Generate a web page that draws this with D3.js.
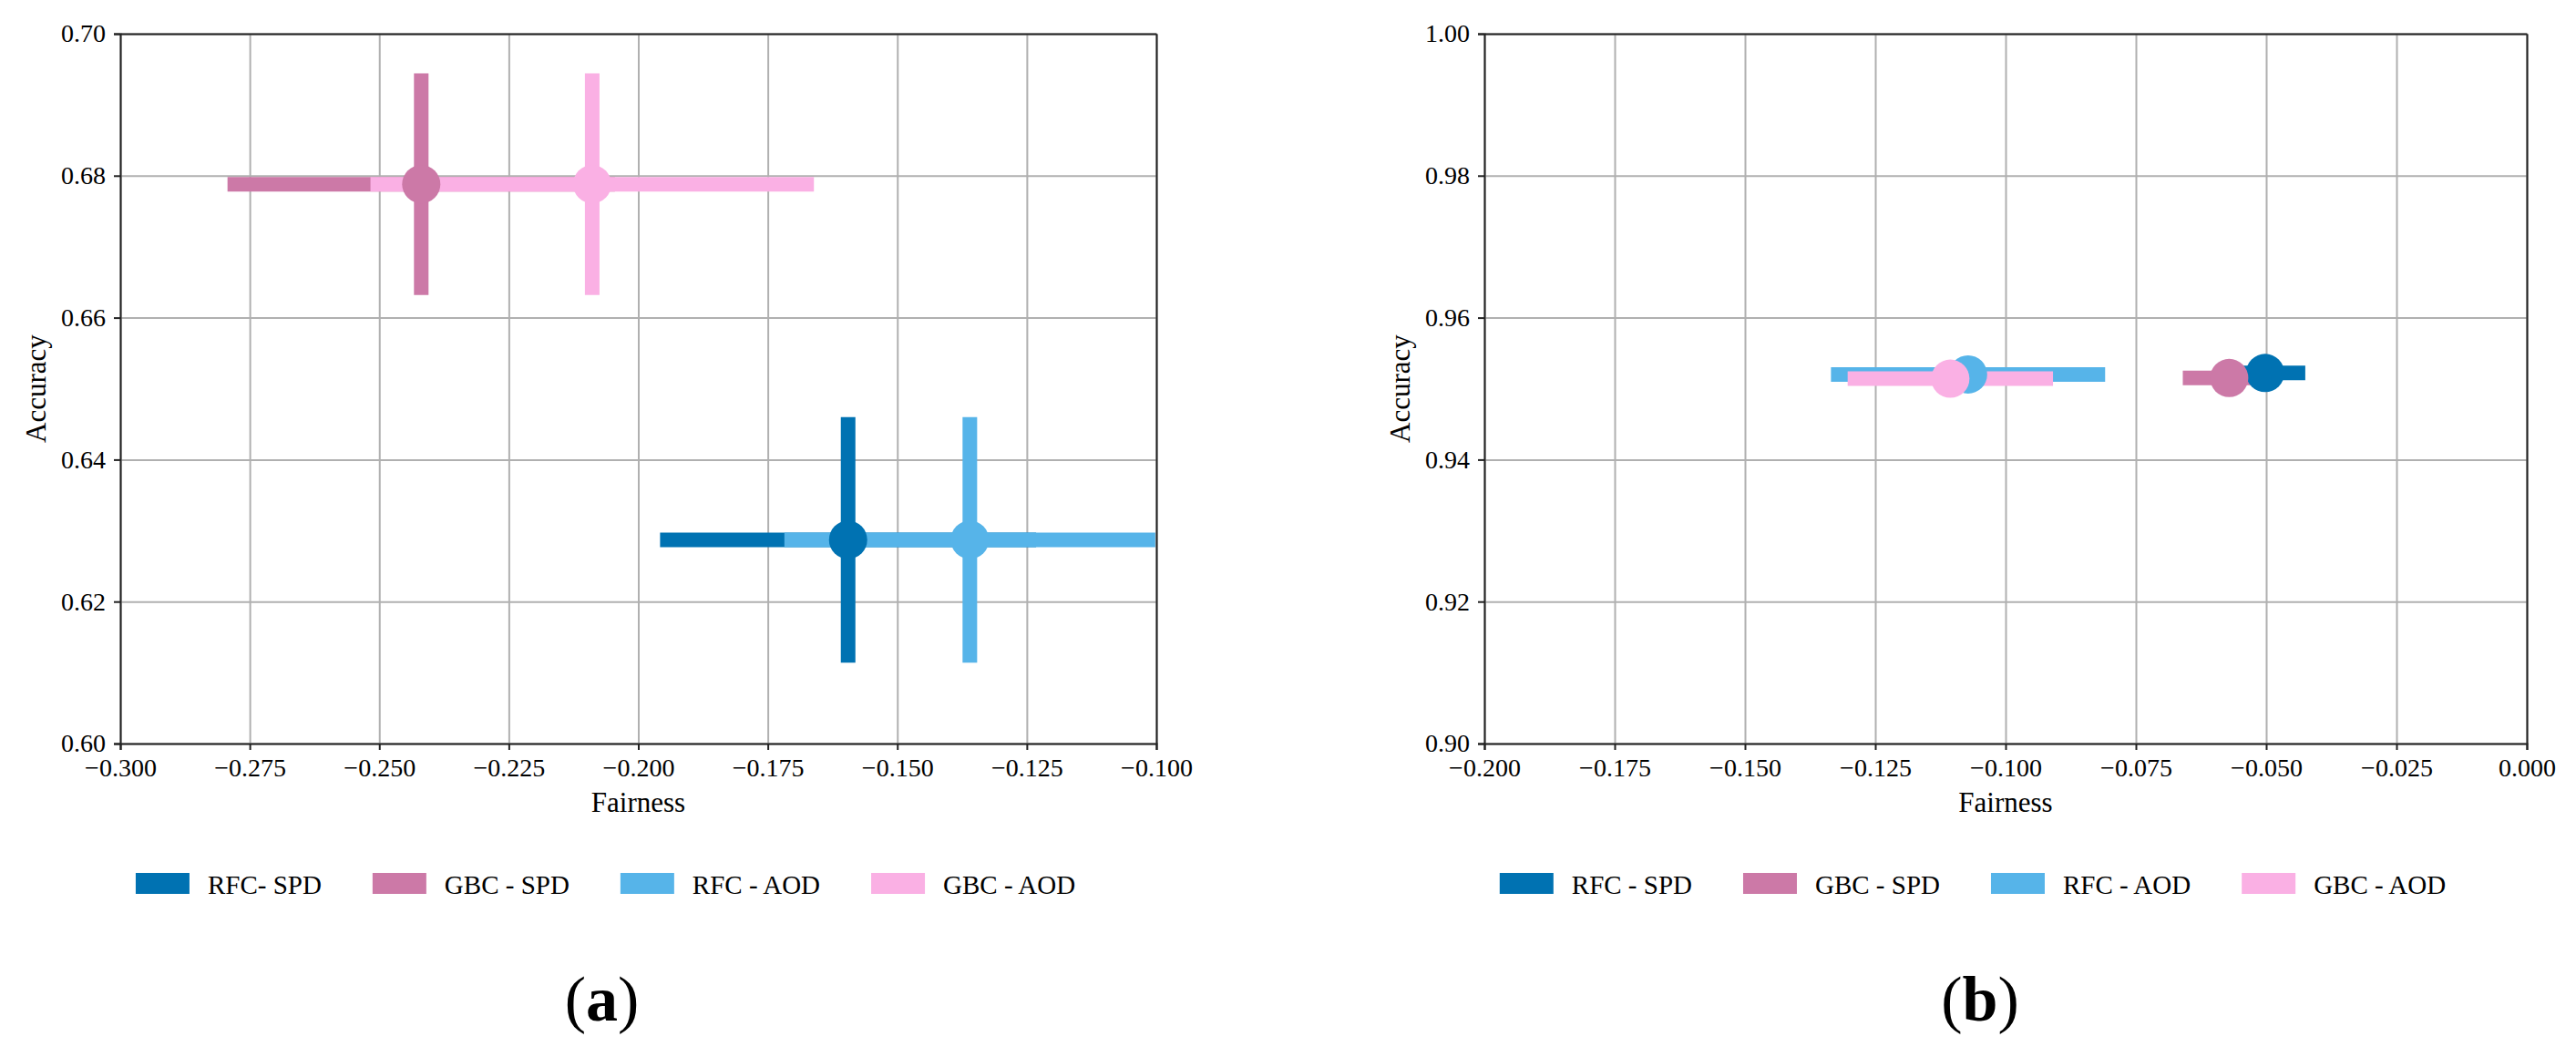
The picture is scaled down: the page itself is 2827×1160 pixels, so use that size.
<!DOCTYPE html>
<html>
<head>
<meta charset="utf-8">
<script src="https://cdn.jsdelivr.net/npm/d3@7"></script>
<style>
  body { margin: 0; background: #fff; }
  svg text { font-family: "Liberation Serif", "Times New Roman", serif; fill: #000; }
  .grid line { stroke: #b0b0b0; stroke-width: 2; }
  .grid path { display: none; }
  .axis path, .axis line { stroke: #222; stroke-width: 2; }
</style>
</head>
<body>
<div id="chart"></div>
<script>
// series colours and legend labels
const colors = ["#0072b2", "#cc79a7", "#56b4e9", "#fab0e4"];
const labelsA = ["RFC- SPD", "GBC - SPD", "RFC - AOD", "GBC - AOD"];
const labelsB = ["RFC - SPD", "GBC - SPD", "RFC - AOD", "GBC - AOD"];

// panel (a): fairness / accuracy with errors
const fairA    = [-0.1595, -0.2419, -0.1360, -0.2089];
const fairErrA = [ 0.0363,  0.0374,  0.0358,  0.0428];
const accA     = [ 0.6287,  0.6788,  0.6287,  0.6788];
const accErrA  = [ 0.0173,  0.0156,  0.0173,  0.0156];
const xTicksA  = [-0.300, -0.275, -0.250, -0.225, -0.200, -0.175, -0.150, -0.125, -0.100];
const yTicksA  = [0.60, 0.62, 0.64, 0.66, 0.68, 0.70];

// panel (b)
const fairB    = [-0.0502, -0.0571, -0.1072, -0.1106];
const fairErrB = [ 0.0077,  0.0089,  0.0263,  0.0197];
const accB     = [ 0.9522,  0.9515,  0.9520,  0.9514];
const accErrB  = [ 0.0015,  0.0015,  0.0015,  0.0015];
const xTicksB  = [-0.200, -0.175, -0.150, -0.125, -0.100, -0.075, -0.050, -0.025, 0.000];
const yTicksB  = [0.90, 0.92, 0.94, 0.96, 0.98, 1.00];

const W = 2827, H = 1160;
const serif = "'Liberation Serif', 'Times New Roman', serif";

let svg = d3.select("#chart").append("svg")
  .attr("width", W)
  .attr("height", H);

function drawPanel(p) {
  let width = p.x1 - p.x0,
      height = p.y1 - p.y0;

  let x = d3.scaleLinear().domain(d3.extent(p.xTicks)).range([0, width]);
  let y = d3.scaleLinear().domain(d3.extent(p.yTicks)).range([height, 0]);

  let g = svg.append("g")
    .attr("transform", "translate(" + p.x0 + "," + p.y0 + ")");

  g.append("clipPath").attr("id", "clip-" + p.id)
    .append("rect").attr("width", width).attr("height", height);

  // grid
  g.append("g").attr("class", "grid")
    .attr("transform", "translate(0," + height + ")")
    .call(d3.axisBottom(x).tickValues(p.xTicks).tickSize(-height).tickFormat(""));
  g.append("g").attr("class", "grid")
    .call(d3.axisLeft(y).tickValues(p.yTicks).tickSize(-width).tickFormat(""));

  let rows = p.fair.map(function(d, i) {
    return {f: d, fe: p.fairErr[i], a: p.acc[i], ae: p.accErr[i], c: colors[i]};
  });

  let plot = g.append("g").attr("clip-path", "url(#clip-" + p.id + ")");

  // error bars first, then markers on top (matplotlib zorder)
  rows.forEach(function(d) {
    plot.append("line")
      .attr("x1", x(d.f - d.fe)).attr("x2", x(d.f + d.fe))
      .attr("y1", y(d.a)).attr("y2", y(d.a))
      .attr("stroke", d.c).attr("stroke-width", 16);
    plot.append("line")
      .attr("x1", x(d.f)).attr("x2", x(d.f))
      .attr("y1", y(d.a - d.ae)).attr("y2", y(d.a + d.ae))
      .attr("stroke", d.c).attr("stroke-width", 16);
  });
  plot.selectAll("circle.pt")
    .data(rows)
    .enter().append("circle")
    .attr("class", "pt")
    .attr("cx", function(d) { return x(d.f); })
    .attr("cy", function(d) { return y(d.a); })
    .attr("r", 21)
    .attr("fill", function(d) { return d.c; });

  // axes
  let fmtX = d3.format(".3f"), fmtY = d3.format(".2f");
  let xAxis = g.append("g").attr("class", "axis")
    .attr("transform", "translate(0," + height + ")")
    .call(d3.axisBottom(x).tickValues(p.xTicks).tickSize(7).tickPadding(9).tickFormat(fmtX))
    .attr("font-family", serif).attr("font-size", 28);
  xAxis.selectAll("text").attr("font-family", serif).style("font-size", "28px");
  let yAxis = g.append("g").attr("class", "axis")
    .call(d3.axisLeft(y).tickValues(p.yTicks).tickSize(7).tickPadding(9).tickFormat(fmtY))
    .attr("font-family", serif).attr("font-size", 28);
  yAxis.selectAll("text").attr("font-family", serif).style("font-size", "28px");
  g.append("g").attr("class", "axis")
    .call(d3.axisTop(x).tickValues([]).tickSizeOuter(0));
  g.append("g").attr("class", "axis")
    .attr("transform", "translate(" + width + ",0)")
    .call(d3.axisRight(y).tickValues([]).tickSizeOuter(0));

  g.append("text")
    .attr("x", width / 2).attr("y", height + 75)
    .attr("text-anchor", "middle")
    .style("font-size", "31px")
    .text("Fairness");
  g.append("text")
    .attr("transform", "translate(-82," + (height / 2) + ") rotate(-90)")
    .attr("text-anchor", "middle")
    .style("font-size", "31px")
    .text("Accuracy");

  // legend, centred like the figure caption
  let cx = (p.x0 + p.x1) / 2 - 36;
  let leg = svg.append("g");
  let items = p.labels.map(function(t, i) {
    let it = leg.append("g");
    it.append("rect").attr("width", 59).attr("height", 23).attr("fill", colors[i]);
    let tx = it.append("text").attr("x", 79).attr("y", 23)
      .style("font-size", "29px").text(t);
    return {g: it, w: 79 + tx.node().getComputedTextLength()};
  });
  let total = d3.sum(items, function(d) { return d.w; }) + 56 * (items.length - 1);
  let pos = cx - total / 2;
  items.forEach(function(d) {
    d.g.attr("transform", "translate(" + pos + ",958)");
    pos += d.w + 56;
  });

  let cap = svg.append("text")
    .attr("x", cx + p.capShift).attr("y", 1120)
    .attr("text-anchor", "middle")
    .style("font-size", "70px");
  cap.append("tspan").text("(");
  cap.append("tspan").style("font-weight", "bold").text(p.id);
  cap.append("tspan").text(")");
}

drawPanel({id: "a", x0: 132, x1: 1269, y0: 37, y1: 816, capShift: -4,
  fair: fairA, fairErr: fairErrA, acc: accA, accErr: accErrA,
  xTicks: xTicksA, yTicks: yTicksA, labels: labelsA});
drawPanel({id: "b", x0: 1629, x1: 2773, y0: 37, y1: 816, capShift: 8,
  fair: fairB, fairErr: fairErrB, acc: accB, accErr: accErrB,
  xTicks: xTicksB, yTicks: yTicksB, labels: labelsB});
</script>
</body>
</html>
